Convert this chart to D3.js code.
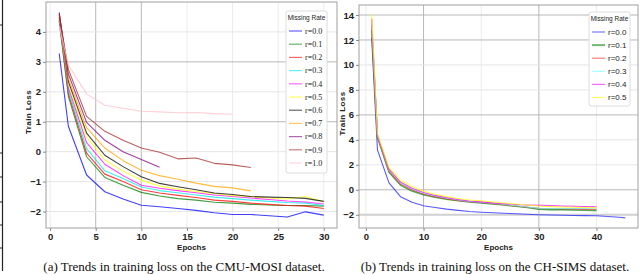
<!DOCTYPE html>
<html><head><meta charset="utf-8">
<script src="https://cdn.jsdelivr.net/npm/d3@7/dist/d3.min.js"></script>
<style>
body{margin:0;background:#fff;}
svg{display:block;}
</style></head>
<body>
<svg id="chart" width="640" height="274"></svg>
<script>
// ---------- DATA ----------
const labelsA = ["r=0.0","r=0.1","r=0.2","r=0.3","r=0.4","r=0.5","r=0.6","r=0.7","r=0.8","r=0.9","r=1.0"];
const epochsA = [1,2,4,6,8,10,12,14,16,18,20,22,24,26,28,30];
const lossA_r00 = [3.28,0.85,-0.78,-1.34,-1.58,-1.79,-1.84,-1.90,-1.96,-2.04,-2.10,-2.10,-2.14,-2.18,-2.01,-2.12];
const lossA_r01 = [4.35,1.85,-0.17,-0.86,-1.12,-1.36,-1.48,-1.57,-1.62,-1.69,-1.72,-1.76,-1.78,-1.80,-1.80,-1.82];
const lossA_r02 = [4.40,1.95,-0.05,-0.75,-1.00,-1.27,-1.38,-1.46,-1.53,-1.62,-1.66,-1.72,-1.76,-1.80,-1.82,-1.90];
const lossA_r03 = [4.45,2.05,0.10,-0.64,-0.90,-1.18,-1.30,-1.37,-1.45,-1.52,-1.57,-1.62,-1.66,-1.70,-1.72,-1.80];
const lossA_r04 = [4.50,2.15,0.30,-0.42,-0.80,-1.12,-1.22,-1.30,-1.37,-1.45,-1.50,-1.55,-1.60,-1.65,-1.68,-1.75];
const lossA_r05 = [4.55,2.25,0.50,-0.28,-0.65,-0.95,-1.15,-1.25,-1.33,-1.40,-1.47,-1.50,-1.55,-1.58,-1.50,-1.67];
const lossA_r06 = [4.65,2.35,0.62,-0.12,-0.50,-0.84,-1.06,-1.17,-1.27,-1.38,-1.43,-1.50,-1.52,-1.53,-1.56,-1.66];
const lossA_r07 = [4.60,2.45,0.80,0.12,-0.30,-0.62,-0.80,-0.92,-1.05,-1.16,-1.21,-1.31];
const lossA_r08 = [4.60,2.60,0.98,0.38,0.00,-0.26,-0.52];
const lossA_r09 = [4.55,2.75,1.18,0.68,0.38,0.12,-0.02,-0.24,-0.21,-0.39,-0.44,-0.53];
const lossA_r10 = [4.20,2.90,1.93,1.55,1.45,1.35,1.33,1.30,1.31,1.27,1.25];

const labelsB = ["r=0.0","r=0.1","r=0.2","r=0.3","r=0.4","r=0.5"];
const epochsB = [1,2,4,6,8,10,12,14,16,18,20,22,24,26,28,30,32,34,36,38,40];
const epochsB0 = [1,2,4,6,8,10,12,14,16,18,20,22,24,26,28,30,32,34,36,38,40,42,44,45];
const lossB_r00 = [12.2,3.2,0.55,-0.55,-1.0,-1.28,-1.42,-1.55,-1.65,-1.74,-1.80,-1.84,-1.88,-1.92,-1.96,-2.0,-2.02,-2.04,-2.06,-2.07,-2.08,-2.14,-2.20,-2.25];
const lossB_r01 = [12.8,4.2,1.4,0.38,-0.10,-0.40,-0.60,-0.75,-0.88,-0.98,-1.05,-1.13,-1.22,-1.32,-1.42,-1.55,-1.60,-1.60,-1.62,-1.63,-1.65];
const lossB_r02 = [13.2,4.3,1.5,0.48,0.00,-0.33,-0.55,-0.72,-0.85,-0.96,-1.02,-1.10,-1.20,-1.30,-1.40,-1.48,-1.50,-1.52,-1.53,-1.55,-1.58];
const lossB_r03 = [13.5,4.35,1.58,0.55,0.06,-0.28,-0.50,-0.68,-0.82,-0.93,-1.00,-1.08,-1.18,-1.28,-1.38,-1.48,-1.50,-1.50,-1.50,-1.50,-1.52];
const lossB_r04 = [13.7,4.4,1.65,0.62,0.12,-0.22,-0.45,-0.63,-0.78,-0.90,-0.97,-1.05,-1.12,-1.18,-1.22,-1.24,-1.27,-1.30,-1.32,-1.34,-1.36];
const lossB_r05 = [14.1,4.5,1.8,0.75,0.25,-0.12,-0.36,-0.55,-0.70,-0.82,-0.88,-0.98,-1.06,-1.14,-1.22,-1.30,-1.35,-1.38,-1.40,-1.42,-1.45];

const xTicksA = [0,5,10,15,20,25,30];
const yTicksA = [-2,-1,0,1,2,3,4];
const xTicksB = [0,10,20,30,40];
const yTicksB = [-2,0,2,4,6,8,10,12,14];

const captionA = "(a) Trends in training loss on the CMU-MOSI dataset.";
const captionB = "(b) Trends in training loss on the CH-SIMS dataset.";

// ---------- STYLE ----------
const colorsA = ["#0000ff","#008000","#ff0000","#00e5e5","#ff00ff","#ffff00","#000000","#ffa500","#800080","#a52a2a","#ffc0cb"];
const colorsB = ["#2222ff","#118811","#ff2222","#66ffff","#ff00ff","#ffff00"];

const svg = d3.select("#chart");

// stray edge of neighbouring figure
svg.append("line").attr("x1",2.5).attr("x2",2.5).attr("y1",0).attr("y2",271).attr("stroke","#222").attr("stroke-width",1.2);
[25,153,177,202,225,248].forEach(y=>{
  svg.append("line").attr("x1",0).attr("x2",2.5).attr("y1",y).attr("y2",y).attr("stroke","#222").attr("stroke-width",1);
});

function panel(opts){
  const {x, y, xTicks, yTicks, strongX, strongY, thickY, series, labels, colors, legend, caption, capX, legendFont, entryFont} = opts;
  const g = svg.append("g");
  const [x0,x1] = x.range(), [y0,y1] = y.range();
  // grid
  xTicks.forEach(t=>{
    g.append("line").attr("x1",x(t)).attr("x2",x(t)).attr("y1",y1).attr("y2",y0)
     .attr("stroke", strongX.includes(t) ? "#b8b8b8" : "#ececec").attr("stroke-width",1);
  });
  yTicks.forEach(t=>{
    g.append("line").attr("x1",x0).attr("x2",x1).attr("y1",y(t)).attr("y2",y(t))
     .attr("stroke", thickY.includes(t) ? "#d0d0d0" : (strongY.includes(t) ? "#b8b8b8" : "#e6e6e6"))
     .attr("stroke-width", thickY.includes(t) ? 2 : 1);
  });
  // frame
  g.append("rect").attr("x",x0).attr("y",y1).attr("width",x1-x0).attr("height",y0-y1)
   .attr("fill","none").attr("stroke","#a0a0a0").attr("stroke-width",1);
  // axes
  const ax = g.append("g").attr("transform",`translate(0,${y0})`)
    .call(d3.axisBottom(x).tickValues(xTicks).tickSize(3).tickPadding(2));
  const ay = g.append("g").attr("transform",`translate(${x0},0)`)
    .call(d3.axisLeft(y).tickValues(yTicks).tickSize(3).tickPadding(2));
  [ax,ay].forEach(a=>{
    a.select(".domain").remove();
    a.selectAll(".tick line").attr("stroke","#888");
    a.selectAll("text").attr("font-family","Liberation Sans, Arial, sans-serif")
      .attr("font-weight","bold").attr("font-size","9.5px").attr("fill","#222");
  });
  // axis titles
  g.append("text").attr("x",(x0+x1)/2).attr("y",250).attr("text-anchor","middle")
   .attr("font-family","Liberation Sans, Arial, sans-serif").attr("font-weight","bold").attr("font-size","8px").attr("fill","#222").text("Epochs");
  g.append("text").attr("transform",`translate(${opts.ylabX},${(y0+y1)/2 - 3}) rotate(-90)`).attr("text-anchor","middle")
   .attr("font-family","Liberation Sans, Arial, sans-serif").attr("font-weight","bold").attr("font-size","8px")
   .attr("letter-spacing","0.4px").attr("fill","#222").text("Train Loss");
  // lines
  const line = d3.line().x(d=>x(d[0])).y(d=>y(d[1]));
  series.forEach((s,i)=>{
    const pts = s.vals.map((v,k)=>[s.ep[k],v]);
    g.append("path").datum(pts).attr("d",line).attr("fill","none")
     .attr("stroke",colors[i]).attr("stroke-opacity",0.75).attr("stroke-width",s.w||1.1)
     .attr("stroke-linejoin","round");
  });
  // legend
  const L = legend;
  const lg = g.append("g");
  lg.append("rect").attr("x",L.x).attr("y",L.y).attr("width",L.w).attr("height",L.h).attr("rx",2)
    .attr("fill","#fff").attr("fill-opacity",0.9).attr("stroke","#dcdcdc");
  lg.append("text").attr("x",L.x+L.w/2).attr("y",L.y+9).attr("text-anchor","middle")
    .attr("font-family","Liberation Sans Narrow, Liberation Sans, sans-serif").attr("font-size",legendFont).attr("fill","#222").text("Missing Rate");
  labels.forEach((lab,i)=>{
    const yy = L.y + L.first + i*L.step;
    lg.append("line").attr("x1",L.x+3).attr("x2",L.x+16).attr("y1",yy).attr("y2",yy)
      .attr("stroke",colors[i]).attr("stroke-opacity",0.6).attr("stroke-width",series[i].w ? 2 : 1.2);
    lg.append("text").attr("x",L.x+19).attr("y",yy+2.8).attr("font-family",entryFont)
      .attr("font-size","8px").attr("fill","#222").text(lab);
  });
  // caption
  svg.append("text").attr("x",capX).attr("y",271).attr("text-anchor","middle")
    .attr("font-family","Liberation Serif, Times New Roman, serif").attr("font-size","13px").attr("fill","#111").text(caption);
}

// Panel A
const xA = d3.scaleLinear().domain([-0.45,31.45]).range([46,337]);
const yA = d3.scaleLinear().domain([-2.55,5.0]).range([228,2]);
const seriesA = [lossA_r00,lossA_r01,lossA_r02,lossA_r03,lossA_r04,lossA_r05,lossA_r06,lossA_r07,lossA_r08,lossA_r09,lossA_r10]
  .map(v=>({ep:epochsA, vals:v}));
panel({x:xA, y:yA, xTicks:xTicksA, yTicks:yTicksA, strongX:[5,10], strongY:[1,3], thickY:[],
  series:seriesA, labels:labelsA, colors:colorsA, ylabX:31,
  legend:{x:286,y:11,w:41,h:162,first:20,step:13.2},
  caption:captionA, capX:184, legendFont:"6.5px", entryFont:"Liberation Serif, serif"});

// Panel B
const xB = d3.scaleLinear().domain([-1.2,47.2]).range([359,638]);
const yB = d3.scaleLinear().domain([-3.06,14.8]).range([228,5]);
const seriesB = [
  {ep:epochsB0, vals:lossB_r00},
  {ep:epochsB, vals:lossB_r01, w:1.5},
  {ep:epochsB, vals:lossB_r02},
  {ep:epochsB, vals:lossB_r03},
  {ep:epochsB, vals:lossB_r04},
  {ep:epochsB, vals:lossB_r05}
];
panel({x:xB, y:yB, xTicks:xTicksB, yTicks:yTicksB, strongX:[10,30], strongY:[14,12,6,0], thickY:[-2],
  series:seriesB, labels:labelsB, colors:colorsB, ylabX:345,
  legend:{x:589,y:12,w:41,h:94,first:20,step:13.1},
  caption:captionB, capX:495, legendFont:"6.5px", entryFont:"Liberation Sans Narrow, Liberation Sans, sans-serif"});
</script>
</body></html>
